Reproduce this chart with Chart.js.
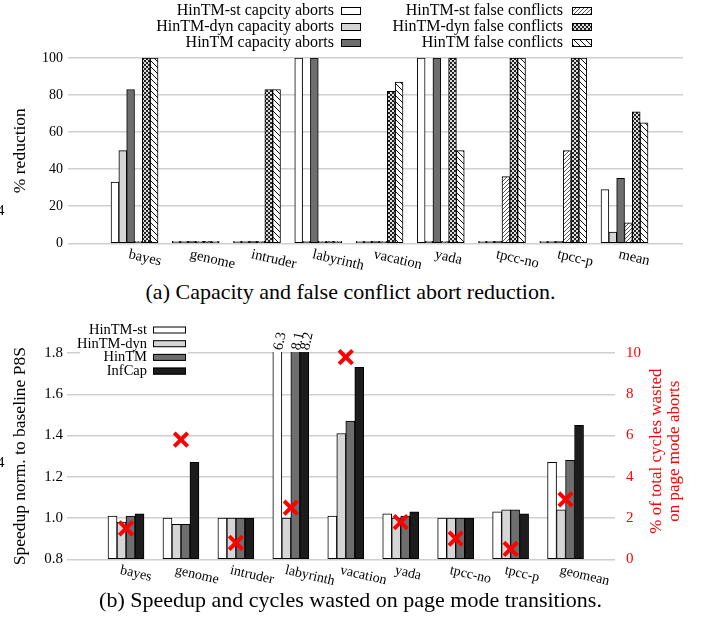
<!DOCTYPE html>
<html>
<head>
<meta charset="utf-8">
<script src="https://cdn.jsdelivr.net/npm/chart.js@4.4.1/dist/chart.umd.min.js"></script>
<style>
  body { margin: 0; background: #fff; width: 701px; height: 622px; overflow: hidden; position: relative; font-family: "Liberation Serif", serif; }
  canvas { position: absolute; left: 0; }
  #chartA { top: 0; }
  #chartB { top: 310px; }
  .cap { position: absolute; left: 0; width: 701px; text-align: center; font-size: 22px; color: #000; line-height: 1; }
  .stray { position: absolute; left: -3px; font-size: 15px; line-height: 1; }
</style>
</head>
<body>
<canvas id="chartA" width="701" height="275"></canvas>
<canvas id="chartB" width="701" height="282"></canvas>
<div class="cap" style="top:281px">(a) Capacity and false conflict abort reduction.</div>
<div class="cap" style="top:589px">(b) Speedup and cycles wasted on page mode transitions.</div>
<span class="stray" style="top:203px">4</span>
<span class="stray" style="top:455px">4</span>
<script>
// ---- (a) % reduction ----
const reductionCats = ['bayes', 'genome', 'intruder', 'labyrinth', 'vacation', 'yada', 'tpcc-no', 'tpcc-p', 'mean'];
const stCapacity    = [33, 0, 0, 100, 0, 100, 0, 0, 29];
const dynCapacity   = [50, 0, 0, 1, 0, 0, 0, 0, 6];
const hintmCapacity = [83, 0, 0, 100, 0, 100, 0, 0, 35];
const stFalse       = [0, 0, 0, 0, 1, 0, 36, 50, 11];
const dynFalse      = [100, 1, 83, 0, 82, 100, 100, 100, 71];
const hintmFalse    = [100, 1, 83, 0, 87, 50, 100, 100, 65];

// ---- (b) speedup + wasted cycles ----
const speedupCats   = ['bayes', 'genome', 'intruder', 'labyrinth', 'vacation', 'yada', 'tpcc-no', 'tpcc-p', 'geomean'];
const speedupSt     = [1.01, 1.00, 1.00, 6.3, 1.01, 1.02, 1.00, 1.03, 1.27];
const speedupDyn    = [0.98, 0.97, 1.00, 1.00, 1.41, 1.00, 1.00, 1.04, 1.04];
const speedupHintm  = [1.01, 0.97, 1.00, 8.1, 1.47, 1.01, 1.00, 1.04, 1.28];
const speedupInfCap = [1.02, 1.27, 1.00, 8.2, 1.73, 1.03, 1.00, 1.02, 1.45];
const wastedCycles  = [1.5, 5.8, 0.8, 2.5, 9.8, 1.8, 1.0, 0.5, 2.9];

const serif = '"Liberation Serif", "Times New Roman", serif';
const pts = arr => arr.map((v, i) => ({ x: i, y: v }));

function makePattern(size, draw) {
    const c = document.createElement('canvas');
    c.width = c.height = size;
    const g = c.getContext('2d');
    draw(g, size);
    return g.createPattern(c, 'repeat');
}

// light "////" hatch
const stFalseFill = makePattern(4, (g, s) => {
    g.fillStyle = '#ffffff';
    g.fillRect(0, 0, s, s);
    g.strokeStyle = '#555';
    g.lineWidth = 1;
    g.beginPath();
    g.moveTo(0, s); g.lineTo(s, 0);
    g.moveTo(-1, 1); g.lineTo(1, -1);
    g.moveTo(s - 1, s + 1); g.lineTo(s + 1, s - 1);
    g.stroke();
});
// checkered
const dynFalseFill = makePattern(4, (g, s) => {
    g.fillStyle = '#dddddd';
    g.fillRect(0, 0, s, s);
    g.fillStyle = '#222';
    g.fillRect(0, 0, 2, 2);
    g.fillRect(2, 2, 2, 2);
});
// white with "\\\\" lines
const hintmFalseFill = makePattern(6, (g, s) => {
    g.fillStyle = '#ffffff';
    g.fillRect(0, 0, s, s);
    g.strokeStyle = '#111';
    g.lineWidth = 1;
    g.beginPath();
    g.moveTo(0, 0); g.lineTo(s, s);
    g.moveTo(-1, s - 1); g.lineTo(1, s + 1);
    g.moveTo(s - 1, -1); g.lineTo(s + 1, 1);
    g.stroke();
});

function slantedLabels(labels, size) {
    return {
        id: 'slantedLabels',
        afterDraw(chart) {
            const ctx = chart.ctx;
            const xs = chart.scales.x;
            const bottom = chart.chartArea.bottom;
            ctx.save();
            ctx.font = size + 'px ' + serif;
            ctx.fillStyle = '#000';
            ctx.textAlign = 'left';
            ctx.textBaseline = 'top';
            labels.forEach((lab, i) => {
                ctx.save();
                ctx.translate(xs.getPixelForValue(i) - 4, bottom + 4);
                ctx.rotate(13 * Math.PI / 180);
                ctx.fillText(lab, 0, 0);
                ctx.restore();
            });
            ctx.restore();
        }
    };
}

const legendA = {
    id: 'legendA',
    afterDraw(chart) {
        const ctx = chart.ctx;
        ctx.save();
        ctx.font = '16px ' + serif;
        ctx.textAlign = 'right';
        ctx.textBaseline = 'middle';
        chart.data.datasets.forEach((ds, i) => {
            const col = Math.floor(i / 3);
            const row = i % 3;
            const textRight = col ? 563 : 334;
            const boxX = col ? 572 : 341;
            const y = 11 + row * 16;
            ctx.fillStyle = '#000';
            ctx.fillText(ds.label, textRight, y);
            ctx.fillStyle = ds.backgroundColor;
            ctx.fillRect(boxX, y - 4, 20, 8);
            ctx.strokeStyle = '#000';
            ctx.lineWidth = 1;
            ctx.strokeRect(boxX + 0.5, y - 3.5, 19, 7);
        });
        ctx.restore();
    }
};

const legendB = {
    id: 'legendB',
    afterDraw(chart) {
        const ctx = chart.ctx;
        ctx.save();
        ctx.fillStyle = '#fff';
        ctx.fillRect(80, 12, 108, 56);
        ctx.font = '14.5px ' + serif;
        ctx.textAlign = 'right';
        ctx.textBaseline = 'middle';
        chart.data.datasets.filter(ds => ds.type !== 'line').forEach((ds, i) => {
            const y = 20 + i * 13.7;
            ctx.fillStyle = '#000';
            ctx.fillText(ds.label, 147, y);
            ctx.fillStyle = ds.backgroundColor;
            ctx.fillRect(153, y - 3.5, 33, 7);
            ctx.strokeStyle = '#000';
            ctx.lineWidth = 1;
            ctx.strokeRect(153.5, y - 3, 32, 6);
        });
        ctx.restore();
    }
};

// values above the axis top get a rotated number, and the right axis title
const overflowLabels = {
    id: 'overflowLabels',
    afterDraw(chart) {
        const ctx = chart.ctx;
        const area = chart.chartArea;
        const yMax = chart.scales.y.max;
        ctx.save();
        ctx.font = '14.5px ' + serif;
        ctx.fillStyle = '#000';
        ctx.textAlign = 'left';
        ctx.textBaseline = 'middle';
        chart.data.datasets.forEach((ds, di) => {
            if (ds.type === 'line') return;
            const meta = chart.getDatasetMeta(di);
            ds.data.forEach((p, idx) => {
                if (p.y > yMax) {
                    ctx.save();
                    ctx.translate(meta.data[idx].x + 1, area.top - 3);
                    ctx.rotate(-78 * Math.PI / 180);
                    ctx.fillText(String(p.y), 0, 0);
                    ctx.restore();
                }
            });
        });
        // right title, two lines, reading upward
        ctx.fillStyle = '#ff0000';
        ctx.font = '17px ' + serif;
        ctx.textAlign = 'center';
        const cy = (area.top + area.bottom) / 2 - 5;
        ctx.save();
        ctx.translate(657, cy);
        ctx.rotate(-Math.PI / 2);
        ctx.fillText('% of total cycles wasted', 0, 0);
        ctx.restore();
        ctx.save();
        ctx.translate(675, cy);
        ctx.rotate(-Math.PI / 2);
        ctx.fillText('on page mode aborts', 0, 0);
        ctx.restore();
        ctx.restore();
    }
};

const barStyle = { borderColor: '#000', borderWidth: 1, borderSkipped: false };

new Chart(document.getElementById('chartA'), {
    type: 'bar',
    data: {
        datasets: [
            { label: 'HinTM-st capcity aborts', data: pts(stCapacity), backgroundColor: '#ffffff', ...barStyle },
            { label: 'HinTM-dyn capacity aborts', data: pts(dynCapacity), backgroundColor: '#d6d6d6', ...barStyle },
            { label: 'HinTM capacity aborts', data: pts(hintmCapacity), backgroundColor: '#6e6e6e', ...barStyle },
            { label: 'HinTM-st false conflicts', data: pts(stFalse), backgroundColor: stFalseFill, ...barStyle },
            { label: 'HinTM-dyn false conflicts', data: pts(dynFalse), backgroundColor: dynFalseFill, ...barStyle },
            { label: 'HinTM false conflicts', data: pts(hintmFalse), backgroundColor: hintmFalseFill, ...barStyle }
        ]
    },
    options: {
        responsive: false,
        animation: false,
        barThickness: 7.83,
        minBarLength: 2,
        layout: { padding: { top: 58, bottom: 31.7, left: 0, right: 18 } },
        plugins: { legend: { display: false }, tooltip: { enabled: false } },
        scales: {
            x: { type: 'linear', display: false, offset: false, min: -1.086, max: 8.955 },
            y: {
                min: 0,
                max: 100,
                ticks: { stepSize: 20, padding: 5, color: '#000', font: { family: serif, size: 14 } },
                grid: { color: '#cfcfcf', lineWidth: 1.5, drawTicks: false },
                border: { display: false },
                title: { display: true, text: '% reduction', color: '#000', font: { family: serif, size: 17.5 }, padding: { top: 10, bottom: 0 } },
                afterFit: s => { s.width = 68; }
            }
        }
    },
    plugins: [legendA, slantedLabels(reductionCats, 14.5)]
});

const clipTop = { top: 1, left: false, right: false, bottom: false };

new Chart(document.getElementById('chartB'), {
    type: 'bar',
    data: {
        datasets: [
            { type: 'line', label: 'wasted', data: pts(wastedCycles), yAxisID: 'y2', showLine: false,
              pointStyle: 'crossRot', pointRadius: 9.5, borderWidth: 4, borderColor: '#ff0000',
              backgroundColor: '#ff0000', clip: false, order: -1 },
            { label: 'HinTM-st', data: pts(speedupSt), backgroundColor: '#ffffff', base: 0.8, clip: clipTop, ...barStyle },
            { label: 'HinTM-dyn', data: pts(speedupDyn), backgroundColor: '#d6d6d6', base: 0.8, clip: clipTop, ...barStyle },
            { label: 'HinTM', data: pts(speedupHintm), backgroundColor: '#6e6e6e', base: 0.8, clip: clipTop, ...barStyle },
            { label: 'InfCap', data: pts(speedupInfCap), backgroundColor: '#1c1c1c', base: 0.8, clip: clipTop, ...barStyle }
        ]
    },
    options: {
        responsive: false,
        animation: false,
        barThickness: 9,
        layout: { padding: { top: 43, bottom: 32.7, left: 0, right: 0 } },
        plugins: { legend: { display: false }, tooltip: { enabled: false } },
        scales: {
            x: { type: 'linear', display: false, offset: false, min: -1.074, max: 8.9 },
            y: {
                min: 0.8,
                max: 1.8,
                ticks: { stepSize: 0.2, padding: 4, color: '#000', font: { family: serif, size: 15 } },
                grid: { color: '#cfcfcf', lineWidth: 1.5, drawTicks: false },
                border: { display: false },
                title: { display: true, text: 'Speedup norm. to baseline P8S', color: '#000', font: { family: serif, size: 17.5 }, padding: { top: 10, bottom: 0 } },
                afterFit: s => { s.width = 67; }
            },
            y2: {
                position: 'right',
                min: 0,
                max: 10,
                ticks: { stepSize: 2, padding: 11, color: '#ff0000', font: { family: serif, size: 15 } },
                grid: { drawOnChartArea: false, drawTicks: false },
                border: { display: false },
                afterFit: s => { s.width = 86; }
            }
        }
    },
    plugins: [legendB, overflowLabels, slantedLabels(speedupCats, 14)]
});
</script>
</body>
</html>
